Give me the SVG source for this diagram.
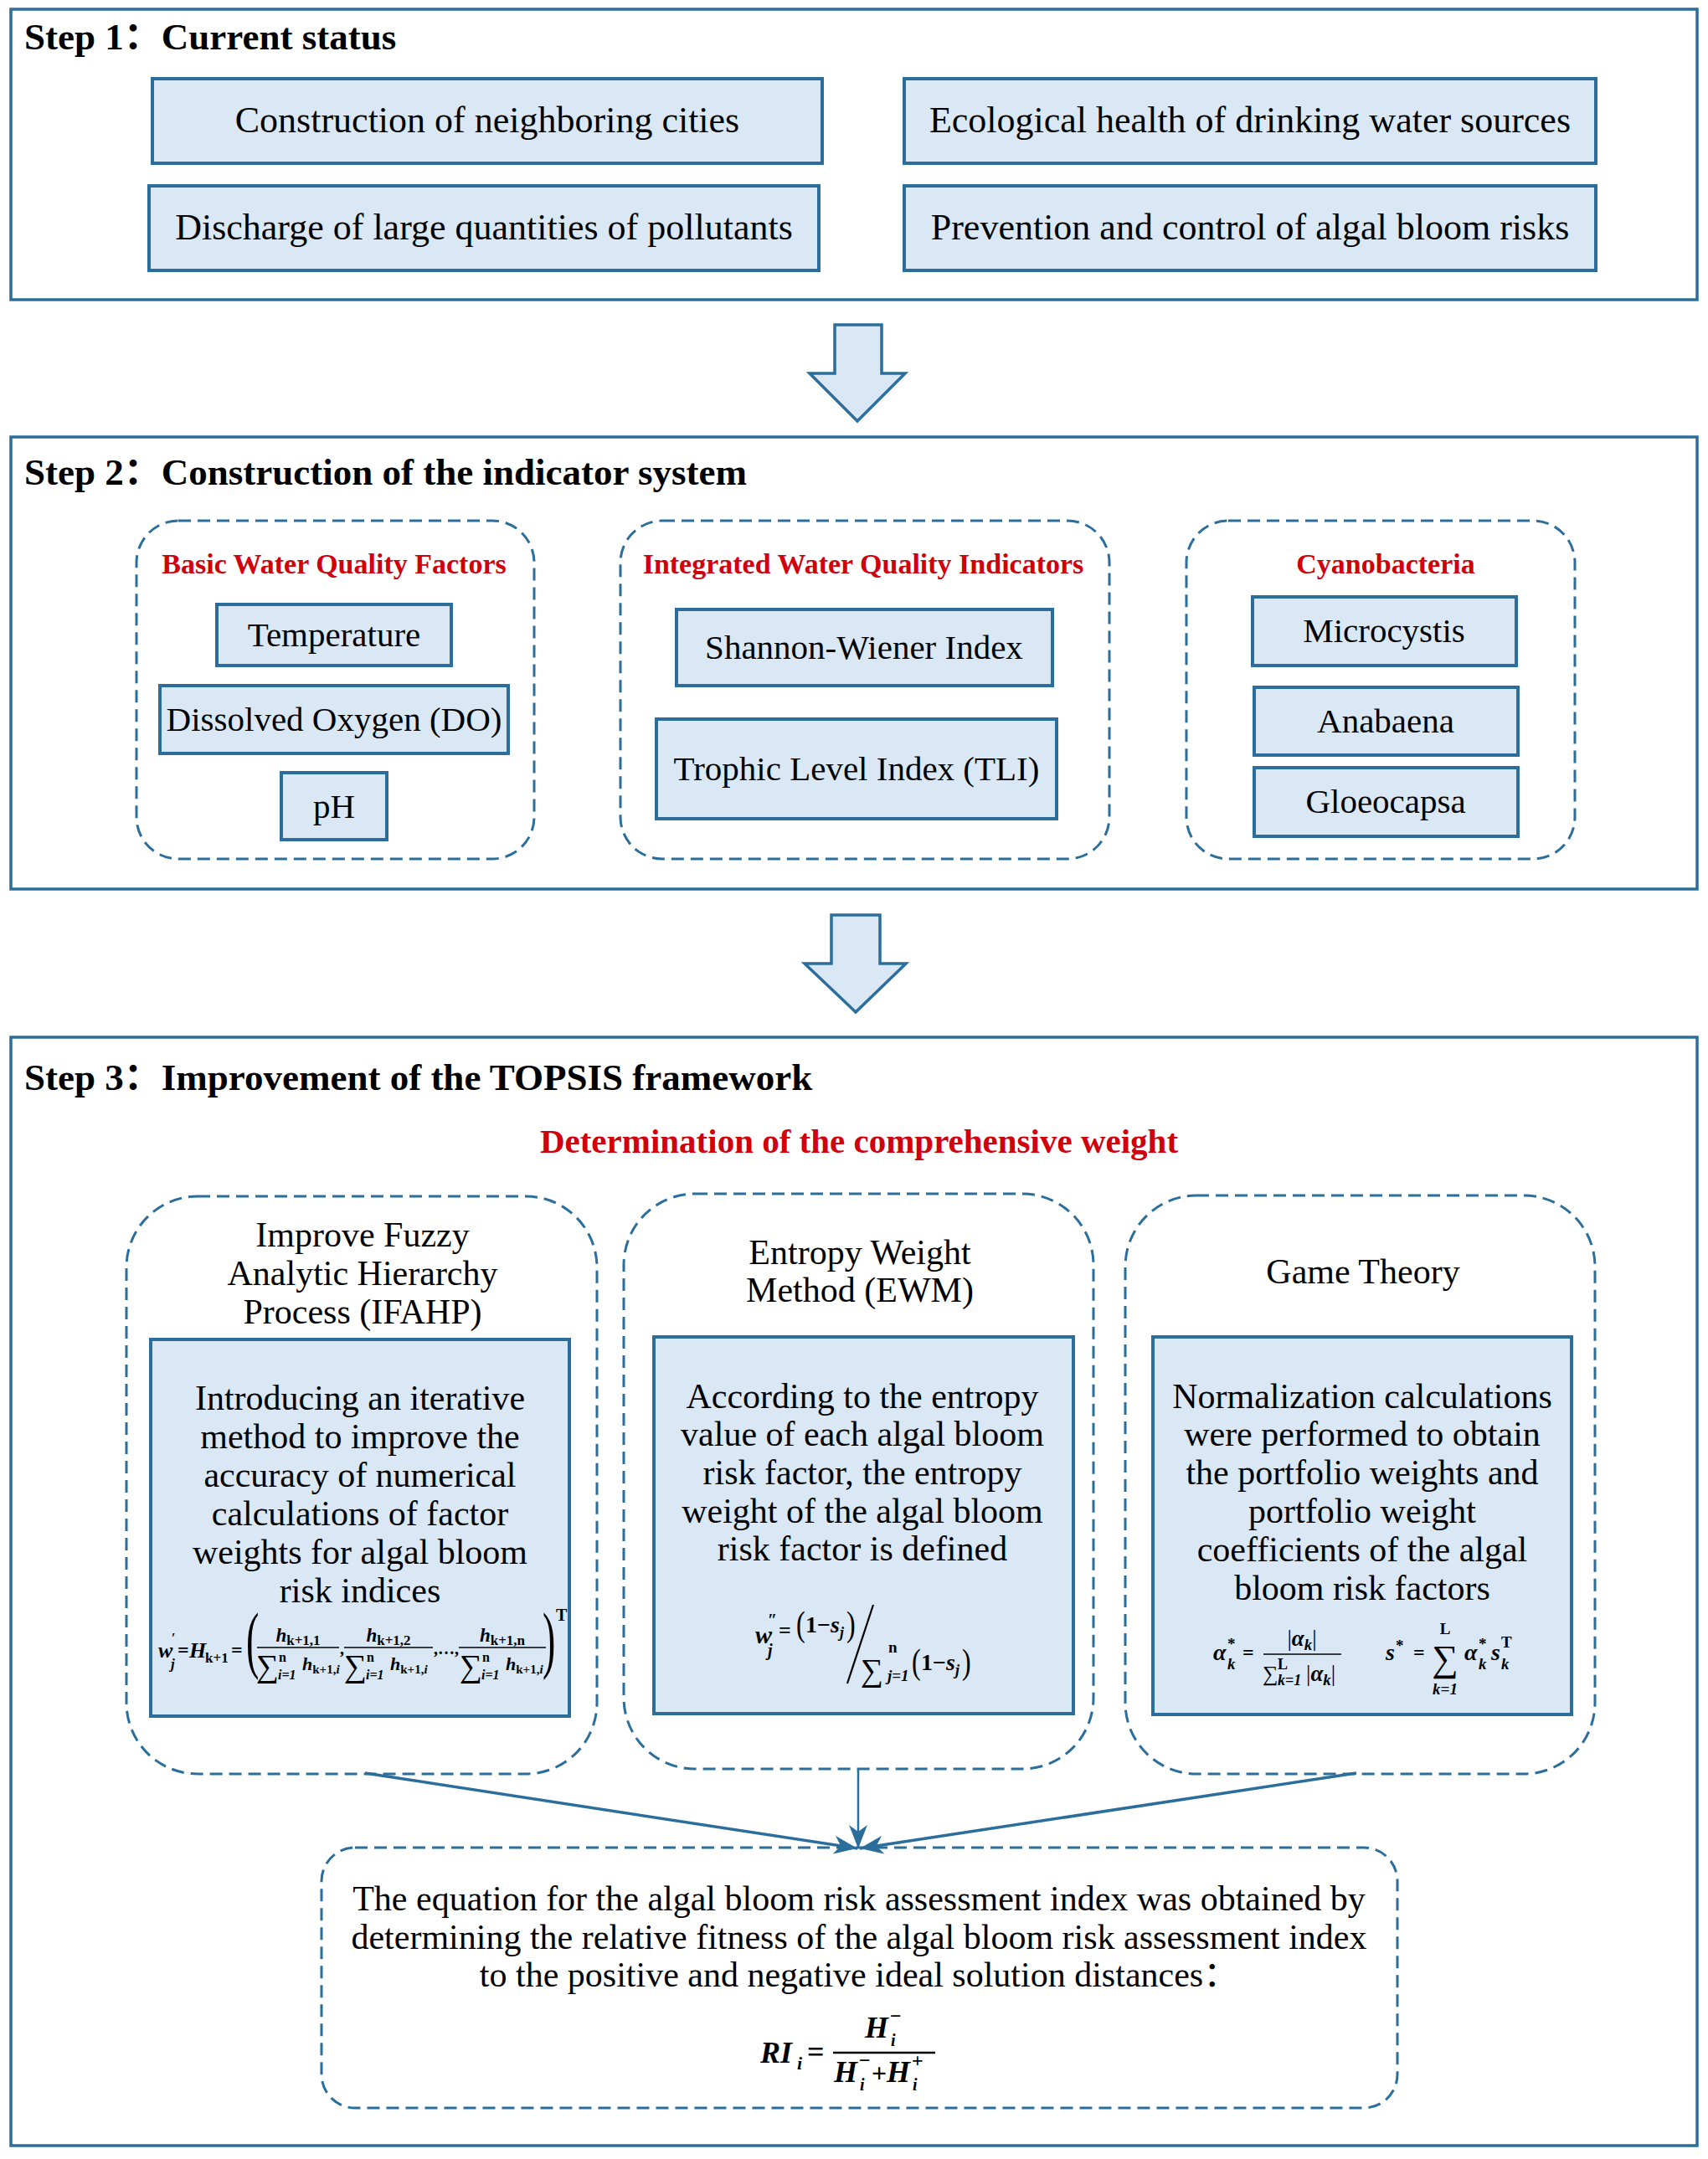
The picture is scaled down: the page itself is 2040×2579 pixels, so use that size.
<svg xmlns="http://www.w3.org/2000/svg" width="2040" height="2579" viewBox="0 0 2040 2579">
<style>
.step{fill:#ffffff;stroke:#2b6e9b;stroke-width:3.5}
.box{fill:#dae8f5;stroke:#2b6e9b;stroke-width:4}
.dash{fill:none;stroke:#2b6e9b;stroke-width:3;stroke-dasharray:15 8}
.barrow{fill:#dae8f5;stroke:#2b6e9b;stroke-width:3.5;stroke-linejoin:miter}
text{font-family:"Liberation Serif","Times New Roman","Noto Sans CJK SC",serif;fill:#000}
.title{font-size:45px;font-weight:bold}
.lbl1{font-size:44px;text-anchor:middle}
.lbl2{font-size:41px;text-anchor:middle}
.red{font-size:34px;font-weight:bold;fill:#d0000c;text-anchor:middle}
.red2{font-size:41px;font-weight:bold;fill:#d0000c;text-anchor:middle}
.body{font-size:42px;text-anchor:middle}
.m{font-style:italic;font-weight:bold}
.mn{font-weight:bold}
.conn{stroke:#2b6e9b;fill:none}
</style>
<defs>
<marker id="ah" markerUnits="userSpaceOnUse" markerWidth="30" markerHeight="22" refX="28" refY="11" orient="auto">
<path d="M0,0 L28,11 L0,22 L8,11 Z" fill="#2b6e9b"/>
</marker>
</defs>

<!-- Step 1 -->
<g id="step1">
<rect class="step" x="13" y="11" width="2014" height="347"/>
<text class="title" x="29" y="59">Step 1：Current status</text>
</g>
<g id="s1-construction">
<rect class="box" x="182" y="94" width="800" height="101"/>
<text class="lbl1" x="582" y="158">Construction of neighboring cities</text>
</g>
<g id="s1-ecological">
<rect class="box" x="1080" y="94" width="826" height="101"/>
<text class="lbl1" x="1493" y="158">Ecological health of drinking water sources</text>
</g>
<g id="s1-discharge">
<rect class="box" x="178" y="222" width="800" height="101"/>
<text class="lbl1" x="578" y="286" font-size="44.6">Discharge of large quantities of pollutants</text>
</g>
<g id="s1-prevention">
<rect class="box" x="1080" y="222" width="826" height="101"/>
<text class="lbl1" x="1493" y="286">Prevention and control of algal bloom risks</text>
</g>

<!-- Step 2 -->
<g id="step2">
<rect class="step" x="13" y="522" width="2014" height="540"/>
<text class="title" x="29" y="579">Step 2：Construction of the indicator system</text>
</g>
<g id="g-basic">
<rect class="dash" x="163" y="622" width="475" height="404" rx="50" ry="50"/>
<text class="red" x="399" y="685">Basic Water Quality Factors</text>
</g>
<g id="g-integrated">
<rect class="dash" x="741" y="622" width="584" height="404" rx="50" ry="50"/>
<text class="red" x="1031" y="685" font-size="34.6">Integrated Water Quality Indicators</text>
</g>
<g id="g-cyano">
<rect class="dash" x="1417" y="622" width="464" height="404" rx="50" ry="50"/>
<text class="red" x="1655" y="685">Cyanobacteria</text>
</g>
<g id="n-temperature">
<rect class="box" x="259" y="722" width="280" height="73"/>
<text class="lbl2" x="399" y="772" font-size="42.5">Temperature</text>
</g>
<g id="n-do">
<rect class="box" x="191" y="819" width="416" height="81"/>
<text class="lbl2" x="399" y="873" font-size="39.5">Dissolved Oxygen (DO)</text>
</g>
<g id="n-ph">
<rect class="box" x="336" y="923" width="126" height="80"/>
<text class="lbl2" x="399" y="977">pH</text>
</g>
<g id="n-shannon">
<rect class="box" x="808" y="728" width="449" height="91"/>
<text class="lbl2" x="1032" y="787" font-size="42.3">Shannon-Wiener Index</text>
</g>
<g id="n-tli">
<rect class="box" x="784" y="859" width="478" height="119"/>
<text class="lbl2" x="1023" y="932">Trophic Level Index (TLI)</text>
</g>
<g id="n-microcystis">
<rect class="box" x="1496" y="713" width="315" height="82"/>
<text class="lbl2" x="1653" y="767">Microcystis</text>
</g>
<g id="n-anabaena">
<rect class="box" x="1498" y="821" width="315" height="81"/>
<text class="lbl2" x="1655" y="875">Anabaena</text>
</g>
<g id="n-gloeocapsa">
<rect class="box" x="1498" y="917" width="315" height="82"/>
<text class="lbl2" x="1655" y="971">Gloeocapsa</text>
</g>

<!-- Step 3 -->
<g id="step3">
<rect class="step" x="13" y="1239" width="2014" height="1324"/>
<text class="title" x="29" y="1302">Step 3：Improvement of the TOPSIS framework</text>
<text class="red2" x="1026" y="1377">Determination of the comprehensive weight</text>
</g>

<g id="g-ifahp">
<rect class="dash" x="151" y="1429" width="562" height="690" rx="85" ry="85"/>
<text class="body" x="433" y="1489">Improve Fuzzy</text>
<text class="body" x="433" y="1535">Analytic Hierarchy</text>
<text class="body" x="433" y="1581">Process (IFAHP)</text>
<rect class="box" x="180" y="1600" width="500" height="450"/>
<text class="body" x="430" y="1684">Introducing an iterative</text>
<text class="body" x="430" y="1730">method to improve the</text>
<text class="body" x="430" y="1776">accuracy of numerical</text>
<text class="body" x="430" y="1822">calculations of factor</text>
<text class="body" x="430" y="1868">weights for algal bloom</text>
<text class="body" x="430" y="1914">risk indices</text>
<!-- formula -->
<text class="m" x="189" y="1980" font-size="26">w</text>
<text class="mn" x="205" y="1962" font-size="16">′</text>
<text class="m" x="204" y="1993" font-size="17">j</text>
<text class="mn" x="212" y="1979" font-size="24">=</text>
<text class="m" x="226" y="1980" font-size="26">H</text>
<text class="mn" x="245" y="1986" font-size="17">k+1</text>
<text class="mn" x="276" y="1979" font-size="24">=</text>
<text transform="translate(294,1988) scale(1,1.95)" font-size="46">(</text>
<text transform="translate(648,1988) scale(1,1.95)" font-size="46">)</text>
<text class="mn" x="664" y="1936" font-size="20">T</text>
<line x1="307" y1="1968" x2="405" y2="1968" stroke="#000" stroke-width="1.4"/>
<line x1="411" y1="1968" x2="517" y2="1968" stroke="#000" stroke-width="1.4"/>
<line x1="548" y1="1968" x2="652" y2="1968" stroke="#000" stroke-width="1.4"/>
<text x="356" y="1961" text-anchor="middle"><tspan class="m" font-size="23">h</tspan><tspan class="mn" font-size="17" dy="4">k+1,1</tspan></text>
<text x="464" y="1961" text-anchor="middle"><tspan class="m" font-size="23">h</tspan><tspan class="mn" font-size="17" dy="4">k+1,2</tspan></text>
<text x="600" y="1961" text-anchor="middle"><tspan class="m" font-size="23">h</tspan><tspan class="mn" font-size="17" dy="4">k+1,n</tspan></text>
<text class="mn" x="406" y="1976" font-size="20">,</text>
<text class="mn" x="518" y="1976" font-size="20">,…,</text>
<!-- denominators -->
<text x="306" y="2003" font-size="38">∑</text>
<text class="mn" x="333" y="1985" font-size="16">n</text>
<text class="m" x="332" y="2006" font-size="16">i<tspan class="mn">=1</tspan></text>
<text x="361" y="1995"><tspan class="m" font-size="22">h</tspan><tspan class="mn" font-size="15" dy="4">k+1,<tspan class="m">i</tspan></tspan></text>
<text x="411" y="2003" font-size="38">∑</text>
<text class="mn" x="438" y="1985" font-size="16">n</text>
<text class="m" x="437" y="2006" font-size="16">i<tspan class="mn">=1</tspan></text>
<text x="466" y="1995"><tspan class="m" font-size="22">h</tspan><tspan class="mn" font-size="15" dy="4">k+1,<tspan class="m">i</tspan></tspan></text>
<text x="549" y="2003" font-size="38">∑</text>
<text class="mn" x="576" y="1985" font-size="16">n</text>
<text class="m" x="575" y="2006" font-size="16">i<tspan class="mn">=1</tspan></text>
<text x="604" y="1995"><tspan class="m" font-size="22">h</tspan><tspan class="mn" font-size="15" dy="4">k+1,<tspan class="m">i</tspan></tspan></text>
</g>

<g id="g-ewm">
<rect class="dash" x="745" y="1426" width="561" height="687" rx="85" ry="85"/>
<text class="body" x="1027" y="1510">Entropy Weight</text>
<text class="body" x="1027" y="1555">Method (EWM)</text>
<rect class="box" x="781" y="1597" width="501" height="450"/>
<text class="body" x="1030" y="1682">According to the entropy</text>
<text class="body" x="1030" y="1727">value of each algal bloom</text>
<text class="body" x="1030" y="1773">risk factor, the entropy</text>
<text class="body" x="1030" y="1819">weight of the algal bloom</text>
<text class="body" x="1030" y="1864">risk factor is defined</text>
<!-- formula -->
<text class="m" x="902" y="1963" font-size="30">w</text>
<text class="mn" x="917" y="1942" font-size="20">″</text>
<text class="m" x="917" y="1978" font-size="20">j</text>
<text class="mn" x="930" y="1956" font-size="26">=</text>
<text transform="translate(951,1954) scale(1,1.35)" font-size="32">(</text>
<text class="mn" x="962" y="1950" font-size="28">1−<tspan class="m">s</tspan><tspan class="m" font-size="18" dy="6">j</tspan></text>
<text transform="translate(1011,1954) scale(1,1.35)" font-size="32">)</text>
<line x1="1043" y1="1917" x2="1012" y2="2011" stroke="#000" stroke-width="2.2"/>
<text x="1028" y="2008" font-size="38">∑</text>
<text class="mn" x="1061" y="1974" font-size="19">n</text>
<text class="m" x="1060" y="2008" font-size="19">j<tspan class="mn">=1</tspan></text>
<text transform="translate(1089,1999) scale(1,1.35)" font-size="32">(</text>
<text class="mn" x="1100" y="1995" font-size="28">1−<tspan class="m">s</tspan><tspan class="m" font-size="18" dy="6">j</tspan></text>
<text transform="translate(1149,1999) scale(1,1.35)" font-size="32">)</text>
</g>

<g id="g-game">
<rect class="dash" x="1344" y="1428" width="561" height="691" rx="85" ry="85"/>
<text class="body" x="1628" y="1533">Game Theory</text>
<rect class="box" x="1377" y="1597" width="500" height="451"/>
<text class="body" x="1627" y="1682">Normalization calculations</text>
<text class="body" x="1627" y="1727">were performed to obtain</text>
<text class="body" x="1627" y="1773">the portfolio weights and</text>
<text class="body" x="1627" y="1819">portfolio weight</text>
<text class="body" x="1627" y="1865">coefficients of the algal</text>
<text class="body" x="1627" y="1911">bloom risk factors</text>
<!-- formula -->
<text class="m" x="1449" y="1983" font-size="28">α</text>
<text class="mn" x="1466" y="1970" font-size="19">*</text>
<text class="m" x="1466" y="1994" font-size="19">k</text>
<text class="mn" x="1484" y="1982" font-size="24">=</text>
<text x="1555" y="1966" text-anchor="middle" font-size="27">|<tspan class="m">α</tspan><tspan class="m" font-size="19" dy="5">k</tspan><tspan dy="-5">|</tspan></text>
<line x1="1509" y1="1976" x2="1602" y2="1976" stroke="#000" stroke-width="1.4"/>
<text x="1508" y="2008" font-size="26">∑</text>
<text class="mn" x="1526" y="1994" font-size="18">L</text>
<text class="m" x="1526" y="2013" font-size="18">k<tspan class="mn">=1</tspan></text>
<text x="1560" y="2008" font-size="27">|<tspan class="m">α</tspan><tspan class="m" font-size="19" dy="5">k</tspan><tspan dy="-5">|</tspan></text>
<text class="m" x="1655" y="1983" font-size="28">s</text>
<text class="mn" x="1667" y="1972" font-size="19">*</text>
<text class="mn" x="1688" y="1982" font-size="24">=</text>
<text x="1726" y="1996" text-anchor="middle" font-size="44">∑</text>
<text class="mn" x="1726" y="1952" text-anchor="middle" font-size="19">L</text>
<text class="m" x="1726" y="2024" text-anchor="middle" font-size="19">k<tspan class="mn">=1</tspan></text>
<text class="m" x="1749" y="1983" font-size="28">α</text>
<text class="mn" x="1766" y="1970" font-size="19">*</text>
<text class="m" x="1766" y="1994" font-size="19">k</text>
<text class="m" x="1781" y="1983" font-size="28">s</text>
<text class="mn" x="1793" y="1968" font-size="19">T</text>
<text class="m" x="1793" y="1994" font-size="19">k</text>
</g>

<g id="n-result">
<rect class="dash" x="384" y="2207" width="1285" height="311" rx="40" ry="40"/>
<text class="body" x="1026" y="2282">The equation for the algal bloom risk assessment index was obtained by</text>
<text class="body" x="1026" y="2328">determining the relative fitness of the algal bloom risk assessment index</text>
<text class="body" x="1026" y="2373">to the positive and negative ideal solution distances：</text>
<text class="m" x="908" y="2464" font-size="36">RI</text>
<text class="m" x="952" y="2472" font-size="22">i</text>
<text class="mn" x="964" y="2463" font-size="36">=</text>
<line x1="995" y1="2452" x2="1117" y2="2452" stroke="#000" stroke-width="2.5"/>
<text class="m" x="1033" y="2434" font-size="36">H</text>
<text class="mn" x="1063" y="2416" font-size="24">−</text>
<text class="m" x="1064" y="2444" font-size="20">i</text>
<text class="m" x="996" y="2487" font-size="36">H</text>
<text class="mn" x="1026" y="2469" font-size="24">−</text>
<text class="m" x="1027" y="2497" font-size="20">i</text>
<text class="mn" x="1041" y="2487" font-size="32">+</text>
<text class="m" x="1059" y="2487" font-size="36">H</text>
<text class="mn" x="1089" y="2469" font-size="24">+</text>
<text class="m" x="1090" y="2497" font-size="20">i</text>
</g>

<!-- Block arrows between steps -->
<g id="arrow1">
<polygon class="barrow" points="997,388 1053,388 1053,446 1081,446 1024,503 967,446 997,446"/>
</g>
<g id="arrow2">
<polygon class="barrow" points="993,1093 1051,1093 1051,1151 1082,1151 1022,1209 961,1151 993,1151"/>
</g>

<g id="connectors">
<line class="conn" x1="436" y1="2118" x2="1024" y2="2208" stroke-width="3.5" marker-end="url(#ah)"/>
<line class="conn" x1="1025" y1="2113" x2="1025" y2="2208" stroke-width="2.5" marker-end="url(#ah)"/>
<line class="conn" x1="1620" y1="2118" x2="1027" y2="2208" stroke-width="3.5" marker-end="url(#ah)"/>
</g>
</svg>
